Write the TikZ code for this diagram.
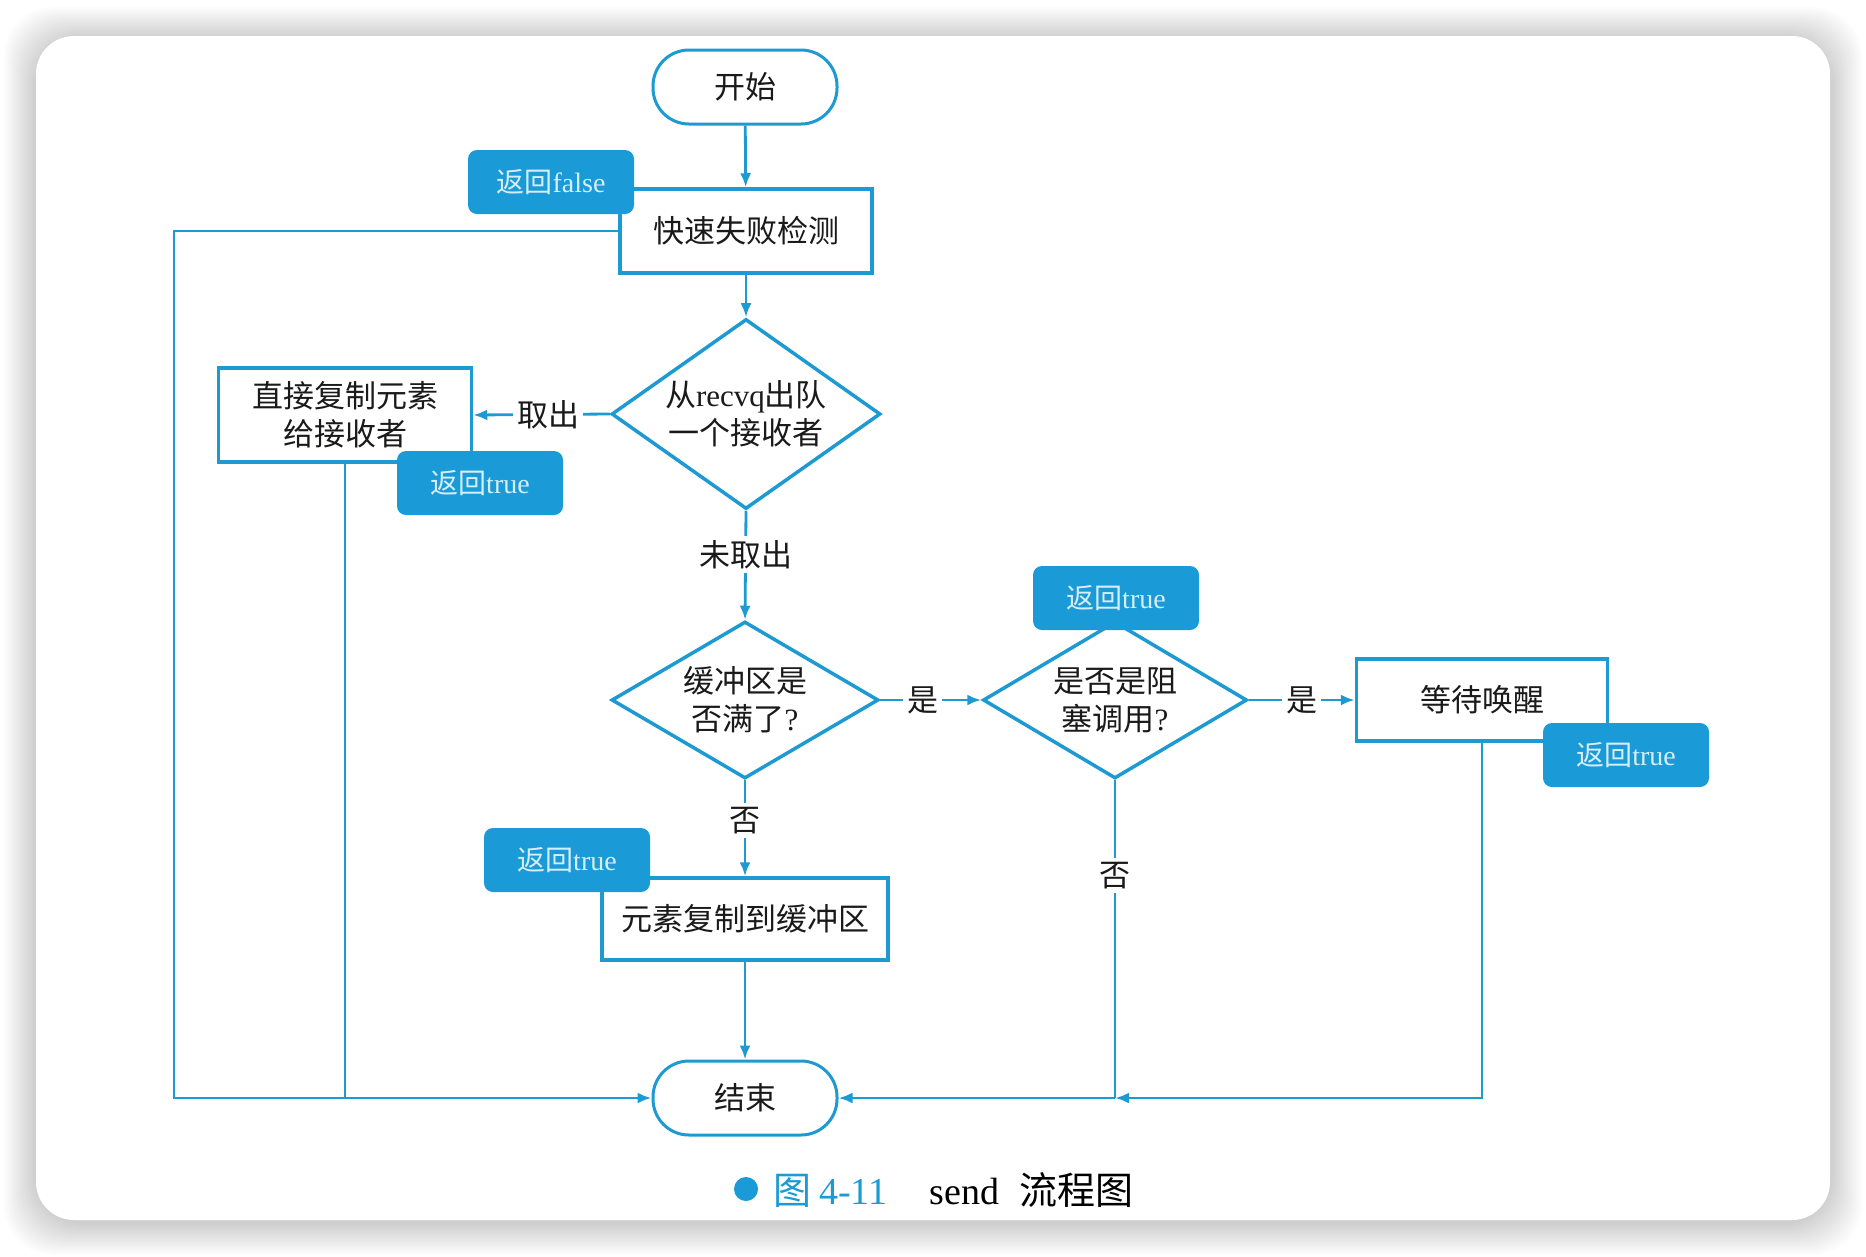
\documentclass[tikz,border=0pt]{standalone}
\usepackage{fontspec}
\setmainfont{Liberation Serif}
\newfontfamily\cjk{Noto Sans CJK SC}
\newcommand\zh[1]{{\cjk #1}}
\usetikzlibrary{arrows.meta,shapes.geometric}
\definecolor{lblue}{HTML}{1E9AD3}
\definecolor{tagfill}{HTML}{1A9AD6}
\definecolor{tagtext}{HTML}{D6EEF9}
\definecolor{ink}{HTML}{1A1A1A}
\tikzset{
  base/.style={font=\fontsize{31}{38}\selectfont, text=ink, align=center},
  term/.style={base, draw=lblue, line width=3pt, fill=white, rounded corners=36pt,
    minimum width=184pt, minimum height=74pt, inner sep=0pt},
  proc/.style={base, draw=lblue, line width=3.5pt, fill=white, inner sep=0pt},
  dec/.style={base, diamond, draw=lblue, line width=3.5pt, fill=white, inner sep=0pt},
  tag/.style={fill=tagfill, rounded corners=9pt, text=tagtext, minimum width=166pt,
    minimum height=64pt, inner sep=0pt, font=\fontsize{28}{32}\selectfont},
  lbl/.style={base, fill=white, inner sep=4pt},
  conn/.style={draw=lblue, line width=2.8pt},
  arr/.style={conn, -{Latex[length=14pt,width=11pt]}},
}
\begin{document}
\begin{tikzpicture}[x=1pt,y=-1pt]
\useasboundingbox (0,0) rectangle (1866,1256);
% background and card with soft shadow
\fill[white] (0,0) rectangle (1866,1256);
\foreach \d in {32,30,...,2}
  \fill[black,opacity=0.01,rounded corners=50pt] (36-\d,36-\d+3) rectangle (1830+\d,1220+\d+3);
\fill[white,rounded corners=38pt] (36,36) rectangle (1830,1220);

% main nodes
\node[term] (start) at (745,87) {\zh{开始}};
\node[proc, minimum width=252pt, minimum height=84pt] (fast) at (746,231) {\zh{快速失败检测}};
\node[dec, aspect=1.42, minimum width=269pt, minimum height=190pt] (d1) at (746,414)
  {\zh{从}recvq\zh{出队}\\\zh{一个接收者}};
\node[proc, minimum width=253pt, minimum height=94pt] (direct) at (345,415)
  {\zh{直接复制元素}\\\zh{给接收者}};
\node[dec, aspect=1.7, minimum width=267pt, minimum height=157pt] (d2) at (745,700)
  {\zh{缓冲区是}\\\zh{否满了}?};
\node[dec, aspect=1.7, minimum width=264pt, minimum height=157pt] (d3) at (1115,700)
  {\zh{是否是阻}\\\zh{塞调用}?};
\node[proc, minimum width=251pt, minimum height=82pt] (wait) at (1482,700) {\zh{等待唤醒}};
\node[proc, minimum width=286pt, minimum height=82pt] (copy) at (745,919) {\zh{元素复制到缓冲区}};
\node[term] (end) at (745,1098) {\zh{结束}};
\coordinate (ll) at (174,1098);
\coordinate (jn) at (1115,1098);

% connectors
\draw[arr] (start) -- (fast);
\draw[arr] (fast) -- (d1);
\draw[arr] (d1.west) -- node[lbl, pos=0.45] (lq) {\zh{取出}} (direct.east);
\draw[arr] (d1.south) -- node[lbl, pos=0.4] (lw) {\zh{未取出}} (d2.north);
\draw[arr] (d2.east) -- node[lbl, pos=0.42] (ly1) {\zh{是}} (d3.west);
\draw[arr] (d3.east) -- node[lbl, pos=0.5] (ly2) {\zh{是}} (wait.west);
\draw[arr] (d2.south) -- node[lbl, pos=0.42] (ln1) {\zh{否}} (copy.north);
\draw[arr] (copy) -- (end);
\draw[arr] (fast.west) -| (ll) -- (end.west);
\draw[conn] (direct.south) -- (direct.south |- ll);
\draw[conn] (d3.south) -- node[lbl, pos=0.3] (ln2) {\zh{否}} (jn);
\draw[arr] (wait.south) |- (jn);
\draw[arr] (jn) -- (end.east);

% tags
\node[tag] (tf) at (551,182) {\zh{返回}false};
\node[tag] (t1) at (480,483) {\zh{返回}true};
\node[tag] (t2) at (1116,598) {\zh{返回}true};
\node[tag] (t3) at (1626,755) {\zh{返回}true};
\node[tag] (t4) at (567,860) {\zh{返回}true};

% caption
\fill[tagfill] (746,1189) circle (12pt);
\node[anchor=west, font=\fontsize{38}{42}\selectfont, inner sep=0pt] (cap) at (773,1190)
  {{\color{tagfill}\zh{图}\hspace{8pt}4-11}\hspace{42pt}send\hspace{20pt}\zh{流程图}};
\end{tikzpicture}
\end{document}
